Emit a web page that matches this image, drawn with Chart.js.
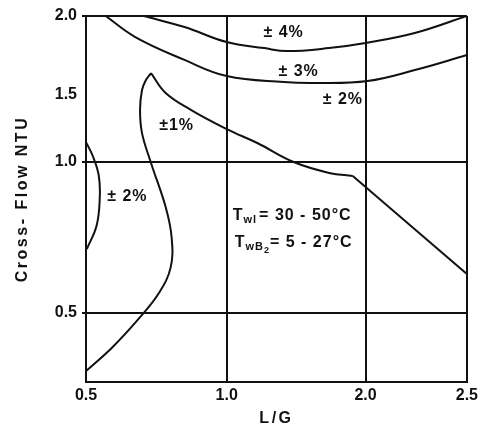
<!DOCTYPE html>
<html>
<head>
    <title>Cross-Flow NTU vs L/G</title>
    <script src="https://cdn.jsdelivr.net/npm/chart.js@4.4.0/dist/chart.umd.min.js"></script>
    <style>
        body { margin: 0; background: #fff; }
    </style>
</head>
<body>
    <canvas id="chart" width="482" height="428"></canvas>
    <script>
        // error zone boundaries (x = L/G, y = Cross-Flow NTU)
        var lg4 = [0.706, 0.85, 1.0, 1.27, 1.433, 1.738, 2.0, 2.243, 2.5];
        var ntu4 = [2.0, 1.93, 1.835, 1.797, 1.778, 1.797, 1.829, 1.892, 2.0];

        var lg3 = [0.57, 0.675, 0.85, 1.0, 1.411, 1.645, 2.01, 2.243, 2.5];
        var ntu3 = [2.0, 1.867, 1.722, 1.62, 1.582, 1.576, 1.589, 1.658, 1.753];

        // +-1% zone: left branch up to the tip, right branch down to the kink, then straight
        var lg1a = [0.5, 0.594, 0.689, 0.759, 0.801, 0.804, 0.783, 0.731, 0.699, 0.692, 0.699, 0.713, 0.731];
        var ntu1a = [0.308, 0.387, 0.483, 0.566, 0.652, 0.752, 0.851, 0.997, 1.216, 1.388, 1.532, 1.595, 1.639];
        var lg1b = [0.731, 0.783, 0.874, 1.0, 1.22, 1.482, 1.738, 1.908];
        var ntu1b = [1.639, 1.513, 1.388, 1.246, 1.142, 1.0, 0.964, 0.954];
        var lg1c = [1.908, 2.5];
        var ntu1c = [0.954, 0.629];

        // small +-2% pocket on the left edge
        var lg2 = [0.5, 0.524, 0.545, 0.549, 0.538, 0.503];
        var ntu2 = [1.149, 1.045, 0.957, 0.884, 0.791, 0.712];

        var zoneLabels = ['± 4%', '± 3%', '± 2%', '±1%', '± 2%'];
        var zoneLG = [1.41, 1.518, 1.837, 0.822, 0.647];
        var zoneNTU = [1.892, 1.646, 1.463, 1.269, 0.884];

        var xTicks = [0.5, 1.0, 2.0, 2.5];
        var yTicks = [0.5, 1.0, 1.5, 2.0];

        // the original axes are not evenly spaced, so each axis is piecewise linear
        var xKnotValues = [0.5, 1.0, 2.0, 2.5];
        var xKnotFractions = [0, 0.3695, 0.7339, 1];
        var yKnotValues = [0.272, 0.5, 1.0, 1.5, 2.0];
        var yKnotFractions = [0, 0.1885, 0.601, 0.784, 1];

        var knots = {
            x: { v: xKnotValues, f: xKnotFractions },
            y: { v: yKnotValues, f: yKnotFractions }
        };

        function interp(val, from, to) {
            var i = 0;
            while (i < from.length - 2 && val > from[i + 1]) i++;
            return to[i] + (val - from[i]) / (from[i + 1] - from[i]) * (to[i + 1] - to[i]);
        }

        class PiecewiseScale extends Chart.LinearScale {
            getPixelForValue(value) {
                if (value === null || value === undefined) return NaN;
                var k = knots[this.id];
                return this.getPixelForDecimal(interp(value, k.v, k.f));
            }
            getValueForPixel(pixel) {
                var k = knots[this.id];
                return interp(this.getDecimalForPixel(pixel), k.f, k.v);
            }
        }
        PiecewiseScale.id = 'piecewise';
        PiecewiseScale.defaults = {};
        Chart.register(PiecewiseScale);

        function points(xs, ys) {
            return xs.map(function(x, i) { return { x: x, y: ys[i] }; });
        }

        function line(label, xs, ys) {
            return {
                label: label,
                data: points(xs, ys),
                showLine: true,
                borderColor: '#111',
                borderWidth: 2,
                pointRadius: 0,
                tension: 0.4,
                fill: false
            };
        }

        var ink = '#111';
        var fontFamily = "'Liberation Sans', Arial, sans-serif";

        // zone labels and the temperature ranges
        var textPlugin = {
            id: 'textPlugin',
            beforeDraw: function(chart) {
                chart.ctx.letterSpacing = '2.5px';
            },
            beforeDatasetsDraw: function(chart) {
                chart.ctx.letterSpacing = '0px';
            },
            afterDatasetsDraw: function(chart) {
                var ctx = chart.ctx;
                var xs = chart.scales.x, ys = chart.scales.y;
                ctx.save();
                ctx.fillStyle = ink;
                ctx.letterSpacing = '1px';
                ctx.textAlign = 'center';
                ctx.textBaseline = 'middle';
                ctx.font = 'bold 16px ' + fontFamily;
                for (var i = 0; i < zoneLabels.length; i++) {
                    ctx.fillText(zoneLabels[i], xs.getPixelForValue(zoneLG[i]), ys.getPixelForValue(zoneNTU[i]));
                }

                ctx.textAlign = 'left';
                ctx.textBaseline = 'alphabetic';
                // T_wl = 30 - 50 C
                var px = xs.getPixelForValue(1.043), py = ys.getPixelForValue(0.831) + 7;
                ctx.font = 'bold 16px ' + fontFamily;
                ctx.fillText('T', px, py);
                px += ctx.measureText('T').width;
                ctx.font = 'bold 11px ' + fontFamily;
                ctx.fillText('wl', px, py + 3);
                px += ctx.measureText('wl').width + 2;
                ctx.font = 'bold 16px ' + fontFamily;
                ctx.fillText('= 30 - 50°C', px, py);

                // T_wB2 = 5 - 27 C
                px = xs.getPixelForValue(1.057);
                py = ys.getPixelForValue(0.742) + 7;
                ctx.fillText('T', px, py);
                px += ctx.measureText('T').width;
                ctx.font = 'bold 11px ' + fontFamily;
                ctx.fillText('wB', px, py + 3);
                px += ctx.measureText('wB').width;
                ctx.font = 'bold 9px ' + fontFamily;
                ctx.fillText('2', px, py + 6);
                px += ctx.measureText('2').width;
                ctx.font = 'bold 16px ' + fontFamily;
                ctx.fillText('= 5 - 27°C', px, py);
                ctx.restore();
                ctx.letterSpacing = '0px';
            }
        };

        var ctx = document.getElementById('chart').getContext('2d');
        var chart = new Chart(ctx, {
            type: 'scatter',
            data: {
                datasets: [
                    line('±4% boundary', lg4, ntu4),
                    line('±3% boundary', lg3, ntu3),
                    line('±1% boundary (left)', lg1a, ntu1a),
                    line('±1% boundary (right)', lg1b, ntu1b),
                    line('±1% boundary (tail)', lg1c, ntu1c),
                    line('±2% pocket', lg2, ntu2)
                ]
            },
            plugins: [textPlugin],
            options: {
                responsive: false,
                animation: false,
                events: [],
                layout: { padding: { left: 13, top: 16, right: 9, bottom: 0 } },
                plugins: {
                    legend: { display: false },
                    tooltip: { enabled: false }
                },
                scales: {
                    x: {
                        type: 'piecewise',
                        min: 0.5,
                        max: 2.5,
                        afterBuildTicks: function(scale) {
                            scale.ticks = xTicks.map(function(v) { return { value: v }; });
                        },
                        afterFit: function(scale) { scale.height = 46; },
                        ticks: {
                            z: 1,
                            autoSkip: false,
                            maxRotation: 0,
                            padding: 4,
                            color: ink,
                            font: { family: fontFamily, size: 16, weight: 'bold' },
                            callback: function(v) { return v.toFixed(1); }
                        },
                        grid: { color: ink, lineWidth: 2, drawTicks: false },
                        border: { color: ink, width: 2 },
                        title: {
                            display: true,
                            text: 'L/G',
                            color: ink,
                            padding: 0,
                            font: { family: fontFamily, size: 16, weight: 'bold' }
                        }
                    },
                    y: {
                        type: 'piecewise',
                        min: 0.272,
                        max: 2.0,
                        afterBuildTicks: function(scale) {
                            scale.ticks = yTicks.map(function(v) { return { value: v }; });
                        },
                        afterFit: function(scale) { scale.width = 73; },
                        ticks: {
                            z: 1,
                            autoSkip: false,
                            padding: 5,
                            color: ink,
                            font: { family: fontFamily, size: 16, weight: 'bold' },
                            callback: function(v) { return v.toFixed(1); }
                        },
                        grid: {
                            color: function(c) { return c.tick && c.tick.value === 1.5 ? 'rgba(0,0,0,0)' : ink; },
                            lineWidth: 2,
                            tickLength: 4
                        },
                        border: { color: ink, width: 2 },
                        title: {
                            display: true,
                            text: 'Cross- Flow NTU',
                            color: ink,
                            padding: 0,
                            font: { family: fontFamily, size: 16, weight: 'bold' }
                        }
                    }
                }
            }
        });
    </script>
</body>
</html>
